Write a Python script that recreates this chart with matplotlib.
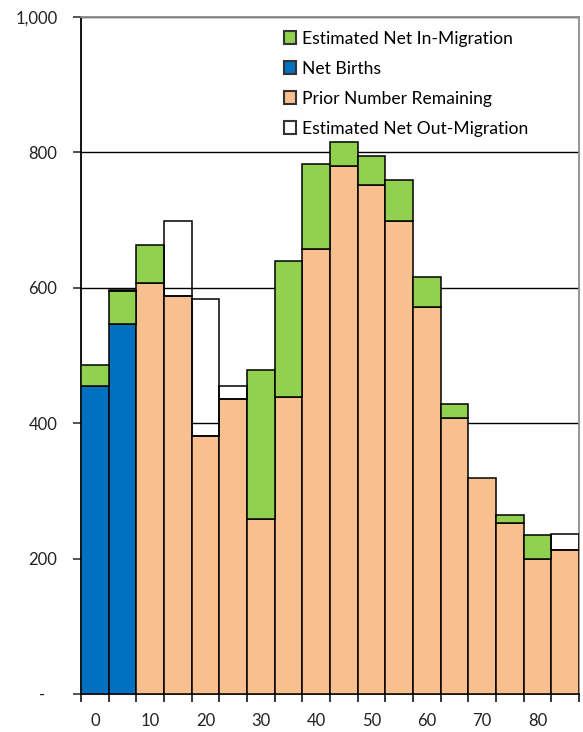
import numpy as np
import matplotlib.pyplot as plt
from matplotlib.patches import Patch

plt.rcParams['font.family'] = ['Lato', 'DejaVu Sans']

# cohort start ages (5-year groups)
ages = [0, 5, 10, 15, 20, 25, 30, 35, 40, 45, 50, 55, 60, 65, 70, 75, 80, 85]
net_births = [455, 546, 0, 0, 0, 0, 0, 0, 0, 0, 0, 0, 0, 0, 0, 0, 0, 0]
prior_remaining = [0, 0, 607, 587, 381, 436, 258, 438, 657, 780, 751, 698, 571, 408, 319, 252, 199, 212]
net_in_migration = [31, 49, 56, 0, 0, 0, 220, 202, 125, 35, 43, 61, 45, 20, 0, 12, 35, 0]
net_out_migration = [0, 2, 0, 111, 202, 19, 0, 0, 0, 0, 0, 0, 0, 0, 0, 0, 0, 24]

y_ticks = [0, 200, 400, 600, 800, 1000]
y_labels = ['-   ', '200', '400', '600', '800', '1,000']

GREEN = '#92D050'
BLUE = '#0070C0'
ORANGE = '#F9C08F'

fig = plt.figure(figsize=(5.83, 7.32), dpi=100)
ax = fig.add_axes([0.139, 0.052, 0.854, 0.925])

x = np.arange(len(ages))
births = np.array(net_births)
prior = np.array(prior_remaining)
inm = np.array(net_in_migration)
outm = np.array(net_out_migration)

ec = dict(edgecolor='black', linewidth=1.1, width=1.0, zorder=3)
b_births = ax.bar(x, births, color=BLUE, **ec)
b_prior = ax.bar(x, prior, bottom=births, color=ORANGE, **ec)
b_in = ax.bar(x, inm, bottom=births + prior, color=GREEN, **ec)
b_out = ax.bar(x, outm, bottom=births + prior + inm, facecolor='none', **ec)

# hide zero-height segments so they don't leave stray outlines
for bars, vals in [(b_births, births), (b_prior, prior), (b_in, inm), (b_out, outm)]:
    for rect, v in zip(bars, vals):
        if v == 0:
            rect.set_visible(False)

ax.set_xlim(-0.5, len(ages) - 0.5)
ax.set_ylim(0, 1000)

ax.set_yticks(y_ticks)
ax.set_yticklabels(y_labels)
ax.yaxis.grid(True, color='black', linewidth=1.0, zorder=0)
ax.set_axisbelow(True)
ax.tick_params(axis='y', length=6, width=1.1, pad=11, labelsize=12, colors='#222222')

ax.set_xticks(x[::2])
ax.set_xticklabels([str(a) for a in ages[::2]])
ax.set_xticks(np.arange(len(ages) + 1) - 0.5, minor=True)
ax.tick_params(axis='x', which='major', length=0, pad=14, labelsize=12, colors='#222222')
ax.tick_params(axis='x', which='minor', length=6, width=1.1, color='black')

for side in ['left', 'bottom']:
    ax.spines[side].set_color('black')
    ax.spines[side].set_linewidth(1.3)
for side in ['top', 'right']:
    ax.spines[side].set_color('#8c8c8c')
    ax.spines[side].set_linewidth(1.3)

handles = [Patch(facecolor=c, edgecolor='#333333', linewidth=1.5)
           for c in [GREEN, BLUE, ORANGE, 'white']]
labels = ['Estimated Net In-Migration', 'Net Births', 'Prior Number Remaining',
          'Estimated Net Out-Migration']
ax.legend(handles, labels, loc='upper left', bbox_to_anchor=(0.387, 0.995),
          frameon=False, fontsize=12.6, handlelength=0.7, handleheight=0.7,
          handletextpad=0.3, labelspacing=0.8, borderaxespad=0.2)

fig.savefig('out.png', dpi=100)
